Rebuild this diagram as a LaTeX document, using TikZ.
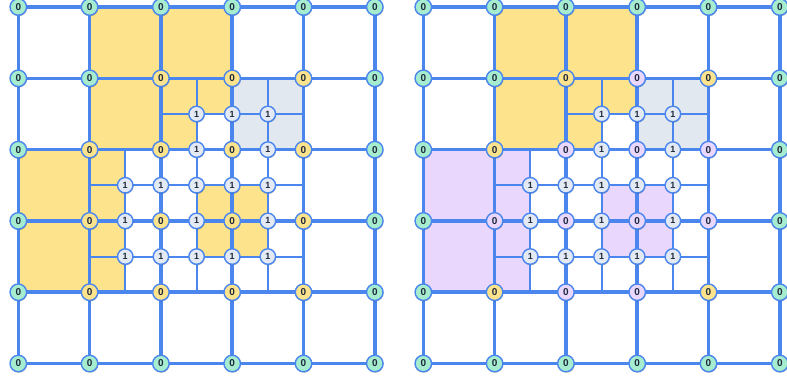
\documentclass[tikz,border=0pt]{standalone}
\usepackage{fontspec}
\newfontfamily\digfont{Liberation Sans}
\usetikzlibrary{shadows}
\definecolor{gline}{HTML}{4A86EE}
\definecolor{yel}{HTML}{FCE38C}
\definecolor{gry}{HTML}{E2E8F0}
\definecolor{pur}{HTML}{E9D7FE}
\definecolor{grn}{HTML}{A6EDCF}
\definecolor{one}{HTML}{E4EAF3}
\definecolor{txt}{HTML}{1E293B}
\tikzset{
  coarse/.style={draw=gline, line width=3.6pt},
  fine/.style={draw=gline, line width=2pt},
  vtx/.style={circle, draw=gline, line width=1.4pt, minimum size=16.5pt, inner sep=0pt,
    text=txt, font=\digfont\bfseries\fontsize{10}{10}\selectfont,
    drop shadow={shadow xshift=0.5pt, shadow yshift=-1pt, opacity=0.25, fill=black}},
  vgreen/.style={vtx, fill=grn},
  vyel/.style={vtx, fill=yel},
  vpur/.style={vtx, fill=pur},
  vone/.style={vtx, fill=one, minimum size=15.5pt, font=\digfont\bfseries\fontsize{9}{9}\selectfont},
}
\begin{document}
\begin{tikzpicture}[x=1pt,y=-1pt]
\clip (0,0) rectangle (787,380);
\fill[white] (0,0) rectangle (787,380);
\def\sp{35.65}
% grid points of both grids
\foreach \g/\ox in {L/18.3, R/423.3}{
  \foreach \a in {0,...,10}{
    \foreach \b in {0,...,10}{
      \coordinate (\g-\a-\b) at ({\ox+\a*\sp},{7+\b*\sp});
    }
  }
}
% fills common to both grids
\foreach \g in {L,R}{
  \fill[yel] (\g-2-0) rectangle (\g-6-2);
  \fill[yel] (\g-2-2) rectangle (\g-4-4);
  \fill[yel] (\g-4-2) rectangle (\g-6-3);
  \fill[yel] (\g-4-3) rectangle (\g-5-4);
  \fill[gry] (\g-6-2) rectangle (\g-8-4);
}
% lower fills
\foreach \g/\c in {L/yel, R/pur}{
  \fill[\c] (\g-0-4) rectangle (\g-2-8);
  \fill[\c] (\g-2-4) rectangle (\g-3-8);
  \fill[\c] (\g-5-5) rectangle (\g-7-7);
}
% lines
\foreach \g in {L,R}{
  \draw[fine] (\g-5-2) -- (\g-5-8);
  \draw[fine] (\g-7-2) -- (\g-7-8);
  \draw[fine] (\g-3-4) -- (\g-3-8);
  \draw[fine] (\g-4-3) -- (\g-8-3);
  \draw[fine] (\g-2-5) -- (\g-8-5);
  \draw[fine] (\g-2-7) -- (\g-8-7);
  \foreach \a in {0,2,...,10}{
    \draw[coarse] (\g-\a-0) -- (\g-\a-10);
    \draw[coarse] (\g-0-\a) -- (\g-10-\a);
  }
}
% nodes
\foreach \g in {L,R}{
  \foreach \a/\b in {0/0,2/0,4/0,6/0,8/0,10/0,0/10,2/10,4/10,6/10,8/10,10/10,
                     0/2,0/4,0/6,0/8,10/2,10/4,10/6,10/8,2/2}{
    \node[vgreen] (\g n-\a-\b) at (\g-\a-\b) {0};
  }
  \foreach \a/\b in {5/3,6/3,7/3,5/4,7/4,3/5,4/5,5/5,6/5,7/5,3/6,5/6,7/6,3/7,4/7,5/7,6/7,7/7}{
    \node[vone] (\g n-\a-\b) at (\g-\a-\b) {1};
  }
}
\foreach \a/\b in {4/2,6/2,8/2,2/4,4/4,6/4,8/4,2/6,4/6,6/6,8/6,2/8,4/8,6/8,8/8}{
  \node[vyel] (Ln-\a-\b) at (L-\a-\b) {0};
}
\foreach \a/\b in {4/2,8/2,2/4,2/8,8/8}{
  \node[vyel] (Rn-\a-\b) at (R-\a-\b) {0};
}
\foreach \a/\b in {6/2,4/4,6/4,8/4,2/6,4/6,6/6,8/6,4/8,6/8}{
  \node[vpur] (Rn-\a-\b) at (R-\a-\b) {0};
}
\end{tikzpicture}
\end{document}
